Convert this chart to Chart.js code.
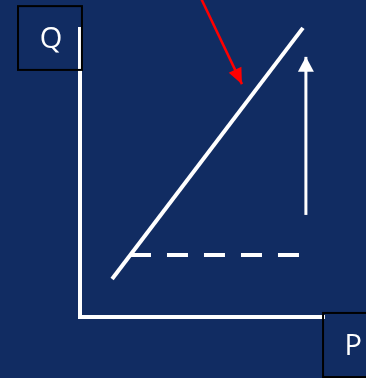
<!DOCTYPE html>
<html><head><meta charset="utf-8">
<script src="https://cdn.jsdelivr.net/npm/chart.js@4"></script>
<style>html,body{margin:0;padding:0;background:#112c62;}#wrap{width:366px;height:378px;}</style>
</head><body><div id="wrap"><canvas id="c" width="366" height="378"></canvas></div>
<script>
// Diagram in abstract (P, Q) units; origin at axis corner
const axisLabels = ["Q", "P"];
const axisQ = [{x:0, y:10.0}, {x:0, y:0}, {x:10.0, y:0}];
const supplyLine = [{x:1.31, y:1.31}, {x:9.10, y:9.97}];
const dashedLine = [{x:2.04, y:2.14}, {x:9.06, y:2.14}];
const upArrow = [{x:9.22, y:3.52}, {x:9.22, y:8.97}];
const redArrow = [{x:4.82, y:11.2}, {x:6.61, y:8.03}];
const qBox = {x1:-2.53, x2:0.08, y1:10.72, y2:8.52};
const pBox = {x1:9.92, x2:12.3, y1:0.14, y2:-2.07};

const arrowHeads = {
  id:'arrowHeads',
  afterDatasetsDraw(chart){
    const ctx = chart.ctx, xs = chart.scales.x, ys = chart.scales.y;
    function head(pts, color, len, wid){
      const a = pts[0], b = pts[1];
      const x0 = xs.getPixelForValue(a.x), y0 = ys.getPixelForValue(a.y);
      const x1 = xs.getPixelForValue(b.x), y1 = ys.getPixelForValue(b.y);
      const ang = Math.atan2(y1-y0, x1-x0);
      ctx.save();
      ctx.translate(x1, y1); ctx.rotate(ang);
      ctx.beginPath(); ctx.moveTo(0,0); ctx.lineTo(-len, wid/2); ctx.lineTo(-len, -wid/2); ctx.closePath();
      ctx.fillStyle = color; ctx.fill();
      ctx.restore();
    }
    head(upArrow, '#ffffff', 15, 16);
    head(redArrow, '#ff0000', 16, 14);
    function box(b, label){
      const x1 = xs.getPixelForValue(b.x1), x2 = xs.getPixelForValue(b.x2);
      const y1 = ys.getPixelForValue(b.y1), y2 = ys.getPixelForValue(b.y2);
      ctx.save();
      ctx.strokeStyle = '#000000'; ctx.lineWidth = 2;
      ctx.strokeRect(x1, y1, x2-x1, y2-y1);
      ctx.fillStyle = '#ffffff';
      ctx.font = '29px "Open Sans", "DejaVu Sans", sans-serif';
      ctx.textAlign = 'center'; ctx.textBaseline = 'middle';
      ctx.fillText(label, (x1+x2)/2 + 1, (y1+y2)/2 + 2);
      ctx.restore();
    }
    box(qBox, axisLabels[0]);
    box(pBox, axisLabels[1]);
  }
};

const bg = {
  id:'bg',
  beforeDraw(chart){
    const ctx = chart.ctx;
    ctx.save(); ctx.fillStyle = '#112c62'; ctx.fillRect(0,0,chart.width,chart.height); ctx.restore();
  }
};

new Chart(document.getElementById('c'), {
  type:'scatter',
  data:{datasets:[
    {data:axisQ, showLine:true, borderColor:'#ffffff', borderWidth:4, pointRadius:0, borderJoinStyle:'miter', borderCapStyle:'butt'},
    {data:supplyLine, showLine:true, borderColor:'#ffffff', borderWidth:4, pointRadius:0},
    {data:dashedLine, showLine:true, borderColor:'#ffffff', borderWidth:4, pointRadius:0, borderDash:[21,16]},
    {data:upArrow, showLine:true, borderColor:'#ffffff', borderWidth:3, pointRadius:0},
    {data:redArrow, showLine:true, borderColor:'#ff0000', borderWidth:2.5, pointRadius:0}
  ]},
  options:{
    responsive:false, animation:false, devicePixelRatio:1,
    layout:{padding:0},
    plugins:{legend:{display:false}, tooltip:{enabled:false}},
    scales:{
      x:{type:'linear', display:false, min:-3.265, max:11.673},
      y:{type:'linear', display:false, min:-2.103, max:10.931}
    }
  },
  plugins:[bg, arrowHeads]
});
</script></body></html>
